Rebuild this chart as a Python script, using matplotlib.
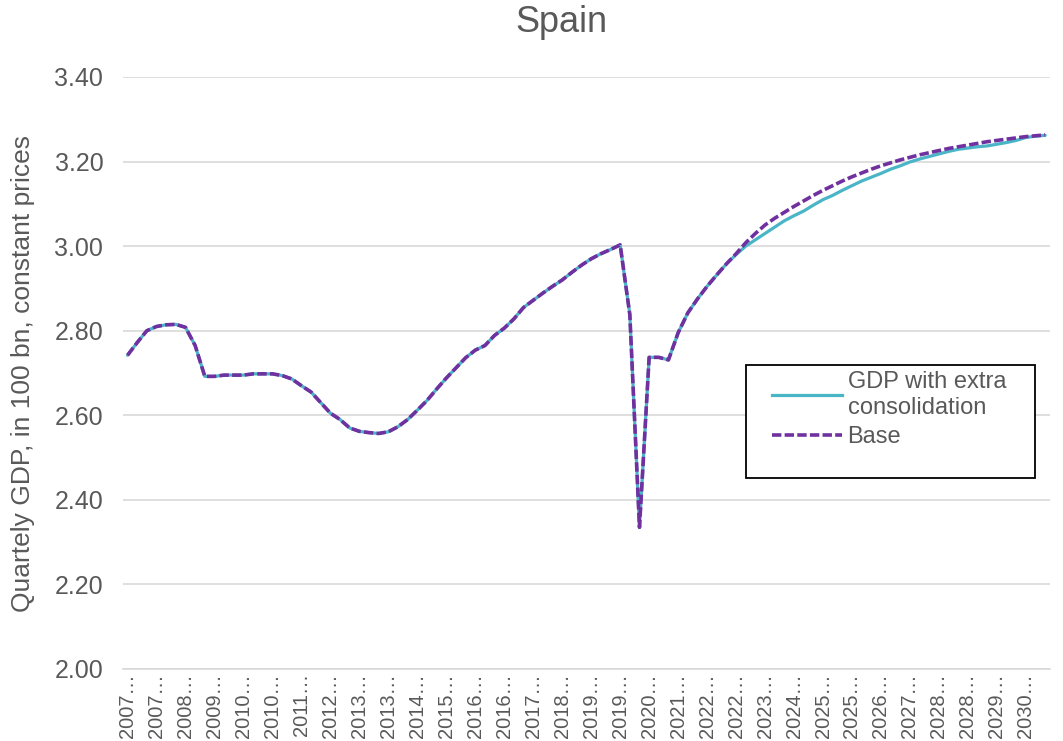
import matplotlib
matplotlib.use("Agg")
import matplotlib.pyplot as plt
from matplotlib.patches import Rectangle
from matplotlib.lines import Line2D

plt.rcParams['font.family'] = ['Liberation Sans', 'DejaVu Sans']

# ---- data ----
years = list(range(2007, 2031))
quarters = [f"{y}Q{q}" for y in years for q in range(1, 5)]

base = [
    2.742, 2.772, 2.800, 2.810, 2.814, 2.815, 2.808, 2.765, 2.692, 2.692,
    2.695, 2.695, 2.695, 2.698, 2.698, 2.698, 2.694, 2.686, 2.670, 2.655,
    2.630, 2.605, 2.590, 2.570, 2.562, 2.559, 2.557, 2.561, 2.573, 2.590,
    2.612, 2.635, 2.662, 2.688, 2.712, 2.736, 2.754, 2.765, 2.789, 2.806,
    2.828, 2.855, 2.872, 2.889, 2.905, 2.920, 2.938, 2.955, 2.970, 2.982,
    2.992, 3.003, 2.838, 2.335, 2.737, 2.737, 2.731, 2.795, 2.842, 2.875,
    2.905, 2.932, 2.958, 2.982, 3.008, 3.030, 3.050, 3.066, 3.080, 3.094,
    3.107, 3.120, 3.132, 3.143, 3.154, 3.164, 3.173, 3.182, 3.190, 3.197,
    3.204, 3.210, 3.216, 3.221, 3.226, 3.231, 3.235, 3.239, 3.243, 3.247,
    3.250, 3.253, 3.256, 3.259, 3.261, 3.263,
]

consolidation = base[:63] + [
    2.980, 3.000, 3.015, 3.030, 3.045, 3.060, 3.072,
    3.083, 3.097, 3.110, 3.120, 3.132, 3.143, 3.154, 3.163, 3.172, 3.182,
    3.190, 3.199, 3.206, 3.212, 3.218, 3.224, 3.229, 3.232, 3.235, 3.237,
    3.241, 3.245, 3.250, 3.257, 3.260, 3.262,
]

yticks = [2.00, 2.20, 2.40, 2.60, 2.80, 3.00, 3.20, 3.40]
label_step = 3
tick_labels = [q[:4] + "\u2026" for q in quarters[::label_step]]

# ---- styling ----
TEXT = '#595959'
GRID = '#D9D9D9'
CYAN = '#4BB5C8'
PURPLE = '#7030A0'

W, H = 1063, 741
fig = plt.figure(figsize=(W / 100, H / 100), dpi=100)
ax = fig.add_axes([122.7 / W, 1 - 669 / H, (1050 - 122.7) / W, (669 - 77) / H])

x = list(range(len(quarters)))
ax.plot(x, consolidation, color=CYAN, lw=2.3, solid_capstyle='round',
        label='GDP with extra\nconsolidation', zorder=3)
ax.plot(x, base, color=PURPLE, lw=2.6, dashes=(2.6, 0.9), dash_capstyle='butt',
        label='Base', zorder=4)

ax.set_xlim(-0.5, len(quarters) - 0.5)
ax.set_ylim(2.0, 3.4)
ax.set_yticks(yticks)
ax.set_yticklabels([f"{v:.2f}" for v in yticks])
ax.set_xticks(x[::label_step])
ax.set_xticklabels(tick_labels, rotation=90)

ax.grid(axis='y', color=GRID, lw=1.2)
ax.set_axisbelow(True)
for s in ['top', 'right', 'left']:
    ax.spines[s].set_visible(False)
ax.spines['bottom'].set_color(GRID)
ax.spines['bottom'].set_linewidth(1.2)
ax.tick_params(axis='y', length=0, pad=14, labelsize=18, labelcolor=TEXT)
ax.tick_params(axis='x', length=0, pad=3, labelsize=14.5, labelcolor=TEXT)

ax.set_ylabel('Quartely GDP, in 100 bn, constant prices', fontsize=19, color=TEXT)
ax.yaxis.set_label_coords(-0.0946, 0.5)

fig.text(561 / W, 1 - 23 / H, 'Spain', ha='center', va='center', fontsize=26, color=TEXT)

# legend box
x0, y0, x1, y1 = 746, 365, 1035, 478
rect = Rectangle((x0 / W, 1 - y1 / H), (x1 - x0) / W, (y1 - y0) / H,
                 transform=fig.transFigure, facecolor='white', edgecolor='black',
                 lw=1.3, zorder=10)
fig.patches.append(rect)
handles = [Line2D([], [], color=CYAN, lw=2.3),
           Line2D([], [], color=PURPLE, lw=2.6, dashes=(2.6, 0.9))]
leg = fig.legend(handles, ['GDP with extra\nconsolidation', 'Base'],
                 loc='upper left', bbox_to_anchor=(772 / W, 1 - 371 / H),
                 frameon=False, fontsize=17, labelcolor=TEXT,
                 handlelength=2.95, handletextpad=0.25, labelspacing=0.3,
                 borderpad=0, borderaxespad=0)
for t in leg.get_texts():
    t.set_linespacing(1.25)
leg.set_zorder(11)

fig.savefig('out.png', dpi=100, facecolor='white')
